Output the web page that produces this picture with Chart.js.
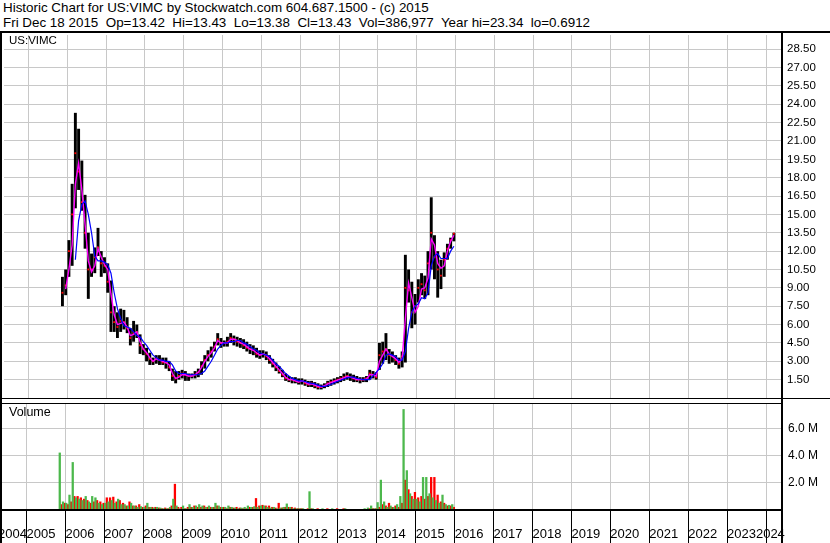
<!DOCTYPE html>
<html>
<head>
<meta charset="utf-8">
<title>Historic Chart for US:VIMC</title>
<script src="https://cdn.jsdelivr.net/npm/chart.js"></script>
<style>
    body { margin: 0; background: #fff; width: 830px; height: 543px; overflow: hidden; position: relative;
           font-family: 'Liberation Sans', Arial, sans-serif; color: #000; }
    #header { position: absolute; left: 3px; top: 1px; font-size: 13.4px; line-height: 14.5px; white-space: pre; }
    .panel-title { position: absolute; left: 9px; z-index: 2; white-space: pre; }
    #priceChart { position: absolute; left: 0; top: 31px; }
    #volChart { position: absolute; left: 0; top: 402px; }
</style>
</head>
<body>
<div id="header">Historic Chart for US:VIMC by Stockwatch.com 604.687.1500 - (c) 2015
Fri Dec 18 2015  Op=13.42  Hi=13.43  Lo=13.38  Cl=13.43  Vol=386,977  Year hi=23.34  lo=0.6912</div>
<div class="panel-title" style="top:34px; font-size:11.5px;">US:VIMC</div>
<div class="panel-title" style="top:405px; font-size:12.5px;">Volume</div>
<canvas id="priceChart" width="830" height="371"></canvas>
<canvas id="volChart" width="830" height="141"></canvas>
<script>
// monthly bars, Nov 2005 - Dec 2015
const months = [
    '2005-11','2005-12',
    '2006-01','2006-02','2006-03','2006-04','2006-05','2006-06','2006-07','2006-08','2006-09','2006-10','2006-11','2006-12',
    '2007-01','2007-02','2007-03','2007-04','2007-05','2007-06','2007-07','2007-08','2007-09','2007-10','2007-11','2007-12',
    '2008-01','2008-02','2008-03','2008-04','2008-05','2008-06','2008-07','2008-08','2008-09','2008-10','2008-11','2008-12',
    '2009-01','2009-02','2009-03','2009-04','2009-05','2009-06','2009-07','2009-08','2009-09','2009-10','2009-11','2009-12',
    '2010-01','2010-02','2010-03','2010-04','2010-05','2010-06','2010-07','2010-08','2010-09','2010-10','2010-11','2010-12',
    '2011-01','2011-02','2011-03','2011-04','2011-05','2011-06','2011-07','2011-08','2011-09','2011-10','2011-11','2011-12',
    '2012-01','2012-02','2012-03','2012-04','2012-05','2012-06','2012-07','2012-08','2012-09','2012-10','2012-11','2012-12',
    '2013-01','2013-02','2013-03','2013-04','2013-05','2013-06','2013-07','2013-08','2013-09','2013-10','2013-11','2013-12',
    '2014-01','2014-02','2014-03','2014-04','2014-05','2014-06','2014-07','2014-08','2014-09','2014-10','2014-11','2014-12',
    '2015-01','2015-02','2015-03','2015-04','2015-05','2015-06','2015-07','2015-08','2015-09','2015-10','2015-11','2015-12'
];

const highs = [
    9.9, 10.5,
    12.9, 17.5, 23.3, 22.0, 19.4, 16.6, 13.5, 11.8, 12.3, 13.9, 12.0, 11.5,
    11.0, 9.6, 7.5, 7.0, 7.3, 7.2, 6.6, 5.7, 6.3, 6.0, 5.2, 4.4,
    4.1, 3.7, 3.3, 3.5, 3.5, 3.3, 3.3, 3.0, 2.4, 2.2, 2.2, 2.3,
    2.2, 2.0, 2.0, 2.2, 2.4, 3.0, 3.5, 3.9, 4.2, 4.6, 5.3, 4.9,
    4.7, 5.0, 5.3, 5.1, 5.0, 4.9, 4.8, 4.6, 4.4, 4.3, 4.1, 3.9,
    3.9, 3.8, 3.5, 3.2, 2.9, 2.6, 2.3, 2.0, 1.8, 1.7, 1.7, 1.6,
    1.6, 1.5, 1.4, 1.4, 1.3, 1.2, 1.1, 1.2, 1.4, 1.5, 1.6, 1.7,
    1.8, 2.0, 2.1, 2.0, 1.9, 1.8, 1.7, 1.7, 1.8, 2.3, 2.2, 2.1,
    4.5, 4.6, 5.3, 4.0, 3.8, 3.5, 3.3, 3.8, 11.7, 10.5, 9.5, 8.5,
    9.7, 10.2, 10.0, 12.0, 16.4, 13.3, 12.0, 11.3, 11.9, 12.6, 13.1, 13.5
];

const lows = [
    7.5, 8.4,
    9.9, 10.8, 15.5, 17.0, 15.3, 12.2, 8.1, 9.9, 10.2, 11.6, 9.9, 10.2,
    8.6, 5.4, 5.4, 4.9, 5.4, 5.6, 5.3, 4.3, 4.6, 4.9, 3.6, 3.5,
    3.0, 2.7, 2.7, 2.8, 2.7, 2.7, 2.4, 2.2, 1.4, 1.2, 1.5, 1.6,
    1.4, 1.4, 1.6, 1.6, 1.7, 1.9, 2.4, 3.0, 3.3, 3.8, 4.3, 4.1,
    4.2, 4.2, 4.5, 4.3, 4.2, 4.1, 4.0, 3.8, 3.6, 3.5, 3.3, 3.2,
    3.3, 3.1, 2.8, 2.5, 2.2, 2.0, 1.7, 1.4, 1.3, 1.2, 1.2, 1.1,
    1.1, 1.0, 0.9, 0.9, 0.8, 0.7, 0.7, 0.8, 0.9, 1.0, 1.1, 1.2,
    1.3, 1.4, 1.5, 1.4, 1.3, 1.3, 1.2, 1.3, 1.3, 1.5, 1.6, 1.5,
    2.3, 2.8, 3.1, 2.8, 2.9, 2.7, 2.4, 2.5, 2.9, 7.8, 5.7, 6.0,
    7.8, 8.4, 8.1, 8.4, 10.5, 9.7, 8.2, 8.9, 9.9, 11.3, 12.2, 12.8
];

const closes = [
    8.6, 9.2,
    12.0, 15.0, 20.0, 18.5, 16.0, 13.5, 10.5, 10.5, 11.5, 12.3, 11.0, 10.8,
    9.5, 7.0, 6.2, 5.8, 6.3, 6.2, 5.7, 4.9, 5.3, 5.4, 4.3, 4.0,
    3.6, 3.2, 3.0, 3.2, 3.1, 2.9, 2.9, 2.5, 1.8, 1.6, 1.8, 2.0,
    1.9, 1.8, 1.8, 1.9, 2.1, 2.6, 3.1, 3.5, 3.8, 4.2, 4.8, 4.5,
    4.5, 4.6, 4.9, 4.8, 4.6, 4.5, 4.3, 4.1, 4.0, 3.9, 3.6, 3.5,
    3.6, 3.4, 3.1, 2.8, 2.5, 2.2, 1.9, 1.6, 1.5, 1.5, 1.4, 1.3,
    1.4, 1.2, 1.1, 1.2, 1.0, 0.9, 0.9, 1.0, 1.2, 1.3, 1.4, 1.5,
    1.6, 1.7, 1.8, 1.7, 1.6, 1.5, 1.5, 1.5, 1.6, 2.0, 1.9, 1.7,
    3.5, 3.8, 4.0, 3.5, 3.4, 3.1, 2.8, 3.4, 9.0, 8.8, 7.0, 7.5,
    9.0, 9.3, 8.8, 11.0, 13.5, 11.5, 10.5, 10.0, 11.3, 12.2, 12.9, 13.43
];

// short moving average (magenta)
const maShort = [
    null, 8.9,
    10.5, 12.5, 17.5, 19.2, 17.0, 14.2, 11.2, 10.3, 10.8, 12.2, 11.5, 10.9,
    10.5, 8.5, 6.8, 6.0, 6.1, 6.2, 5.8, 5.1, 5.2, 5.4, 4.6, 4.0,
    3.7, 3.3, 3.0, 3.2, 3.1, 3.0, 2.9, 2.7, 2.0, 1.6, 1.7, 1.9,
    1.9, 1.8, 1.8, 1.9, 2.1, 2.5, 3.0, 3.4, 3.7, 4.1, 4.7, 4.5,
    4.5, 4.5, 4.8, 4.8, 4.7, 4.5, 4.4, 4.2, 4.0, 3.9, 3.7, 3.5,
    3.6, 3.5, 3.2, 2.9, 2.6, 2.3, 2.0, 1.7, 1.5, 1.5, 1.4, 1.3,
    1.4, 1.3, 1.15, 1.15, 1.05, 0.95, 0.9, 1.0, 1.15, 1.25, 1.35, 1.45,
    1.55, 1.65, 1.75, 1.7, 1.6, 1.5, 1.5, 1.5, 1.55, 1.9, 1.9, 1.8,
    3.0, 3.5, 4.0, 3.6, 3.4, 3.2, 2.9, 3.2, 6.5, 9.4, 8.2, 7.0,
    7.5, 8.9, 9.0, 9.8, 13.0, 12.5, 11.0, 10.6, 10.8, 12.0, 12.8, 13.3
];

// long moving average (blue)
const maLong = [
    null, null,
    null, null, 11.3, 14.5, 15.8, 16.1, 15.0, 13.5, 11.6, 11.2, 11.2, 11.1,
    10.9, 10.2, 8.6, 7.3, 6.5, 5.9, 5.8, 5.7, 5.4, 5.1, 5.0, 4.6,
    4.3, 3.9, 3.5, 3.3, 3.1, 3.1, 3.0, 3.0, 2.7, 2.2, 2.0, 2.0,
    2.0, 1.9, 1.9, 1.9, 1.9, 2.0, 2.2, 2.6, 3.0, 3.5, 4.0, 4.3,
    4.5, 4.5, 4.6, 4.6, 4.7, 4.7, 4.5, 4.4, 4.2, 4.0, 3.9, 3.7,
    3.6, 3.5, 3.4, 3.1, 2.8, 2.6, 2.3, 2.0, 1.8, 1.6, 1.5, 1.4,
    1.4, 1.35, 1.25, 1.2, 1.15, 1.05, 0.95, 0.95, 1.0, 1.1, 1.25, 1.35,
    1.45, 1.55, 1.65, 1.7, 1.7, 1.6, 1.55, 1.5, 1.5, 1.5, 1.8, 2.1,
    2.4, 2.8, 3.5, 3.6, 3.5, 3.4, 3.1, 3.1, 3.8, 5.7, 7.0, 7.5,
    7.7, 8.2, 8.1, 8.6, 10.8, 11.6, 11.8, 11.4, 11.4, 11.4, 12.0, 12.4
];

// volume in millions, up days (green) and down days (red)
const volUp = [
    4.2, 0.6,
    0.5, 1.1, 3.5, 0.9, 0.8, 0.7, 1.0, 0.6, 1.0, 0.9, 0.5, 0.4,
    0.5, 0.6, 0.7, 0.5, 0.8, 0.4, 0.4, 0.3, 0.5, 0.3, 0.2, 0.25,
    0.2, 0.5, 0.2, 0.15, 0.2, 0.15, 0.1, 0.1, 0.2, 0.8, 0.3, 0.1,
    0.3, 0.1, 0.4, 0.2, 0.3, 0.4, 0.3, 0.2, 0.3, 0.2, 0.5, 0.3,
    0.2, 0.2, 0.3, 0.2, 0.15, 0.1, 0.15, 0.2, 0.3, 0.2, 0.25, 0.2,
    0.3, 0.3, 0.2, 0.15, 0.2, 0.1, 0.15, 0.2, 0.45, 0.2, 0.1, 0.1,
    0.1, 0.1, 0.05, 1.35, 0.1, 0.05, 0.05, 0.1, 0.05, 0.05, 0.1, 0.05,
    0.05, 0.05, 0.1, 0.05, 0.05, 0.05, 0.05, 0.05, 0.1, 0.15, 0.3, 0.1,
    0.55, 2.2, 0.6, 0.2, 0.3, 0.2, 0.4, 1.0, 7.4, 2.9, 1.2, 0.8,
    0.8, 0.6, 2.4, 2.4, 1.2, 0.9, 0.7, 0.5, 1.1, 0.4, 0.35, 0.4
];
const volDown = [
    0.4, 0.5,
    0.4, 0.6, 1.0, 1.0, 0.9, 0.8, 0.7, 0.5, 0.6, 0.7, 0.6, 0.5,
    0.9, 0.9, 0.95, 0.6, 0.7, 0.5, 0.3, 0.6, 0.3, 0.3, 0.4, 0.2,
    0.3, 0.2, 0.2, 0.2, 0.15, 0.1, 0.15, 0.1, 0.3, 1.9, 0.2, 0.2,
    0.1, 0.2, 0.2, 0.3, 0.2, 0.2, 0.3, 0.2, 0.2, 0.2, 0.3, 0.2,
    0.2, 0.1, 0.2, 0.15, 0.2, 0.15, 0.1, 0.1, 0.2, 0.2, 0.85, 0.3,
    0.35, 0.3, 0.3, 0.2, 0.15, 0.5, 0.15, 0.2, 0.2, 0.2, 0.15, 0.1,
    0.1, 0.05, 0.1, 0.1, 0.05, 0.1, 0.05, 0.05, 0.1, 0.05, 0.05, 0.1,
    0.05, 0.1, 0.05, 0.05, 0.05, 0.05, 0.05, 0.05, 0.05, 0.1, 0.1, 0.1,
    0.2, 0.4, 0.3, 0.5, 0.2, 0.3, 0.2, 0.5, 2.2, 1.5, 1.0, 1.3,
    0.9, 1.0, 0.8, 1.0, 2.4, 2.4, 1.1, 0.6, 0.5, 0.3, 0.3, 0.2
];

const yearLabels = ['2004','2005','2006','2007','2008','2009','2010','2011','2012','2013','2014',
    '2015','2016','2017','2018','2019','2020','2021','2022','2023','2024'];

const xMin = 2004.37;
const xMax = 2024.41;
const gridColor = '#c8c8c8';
const fontFamily = "'Liberation Sans', Arial, sans-serif";

// decimal year at the middle of each month
const monthX = months.map(s => {
    const [y, m] = s.split('-').map(Number);
    return y + (m - 0.5) / 12;
});
const pts = arr => arr.map((v, i) => ({ x: monthX[i], y: v }));

function noPad(scale) {
    scale.paddingTop = 0;
    scale.paddingBottom = 0;
    scale.paddingLeft = 0;
    scale.paddingRight = 0;
}

// year boundaries used for grid lines
const yearValues = yearLabels.slice(1).map(Number);

let pricePanel = {
    id: 'pricePanel',
    afterDraw(chart) {
        const { ctx, chartArea: a, width, height } = chart;
        ctx.save();
        ctx.fillStyle = '#000';
        ctx.fillRect(0, 0, width, 2);
        ctx.fillRect(0, 0, 2, height);
        ctx.fillRect(a.right - 1, 0, 2, height);
        ctx.fillRect(0, a.bottom, width, 1);
        ctx.restore();
    }
};

let volPanel = {
    id: 'volPanel',
    afterDraw(chart) {
        const { ctx, chartArea: a, height } = chart;
        ctx.save();
        ctx.fillStyle = '#000';
        ctx.fillRect(0, 1, a.right, 1);
        ctx.fillRect(0, 0, 2, height);
        ctx.fillRect(a.right - 1, 0, 2, height);
        ctx.fillRect(0, a.bottom - 1, a.right, 2);
        ctx.restore();
    }
};

new Chart(document.getElementById('priceChart'), {
    type: 'bar',
    data: {
        datasets: [
            {
                type: 'line',
                data: pts(maLong),
                borderColor: '#0000ff',
                borderWidth: 1.2,
                pointRadius: 0,
                order: 1
            },
            {
                type: 'line',
                data: pts(maShort),
                borderColor: '#ff00ff',
                borderWidth: 1.4,
                pointRadius: 0,
                order: 2
            },
            {
                type: 'line',
                data: pts(closes),
                showLine: false,
                pointStyle: 'rect',
                pointRadius: 1.3,
                pointBorderWidth: 0,
                pointBackgroundColor: '#ff0000',
                order: 3
            },
            {
                type: 'bar',
                data: monthX.map((x, i) => ({ x: x, y: [lows[i], highs[i]] })),
                backgroundColor: '#000',
                barPercentage: 0.9,
                categoryPercentage: 1,
                order: 4
            }
        ]
    },
    options: {
        responsive: false,
        animation: false,
        layout: { padding: { left: 2, top: 2, right: 0, bottom: 0 } },
        plugins: { legend: { display: false }, tooltip: { enabled: false } },
        scales: {
            x: {
                type: 'linear',
                min: xMin,
                max: xMax,
                offset: false,
                afterBuildTicks: s => { s.ticks = yearValues.map(v => ({ value: v })); },
                ticks: { display: false },
                grid: { color: gridColor, drawTicks: false, offset: false },
                border: { display: false },
                afterFit: s => { s.height = 1; noPad(s); }
            },
            y: {
                position: 'right',
                min: 0,
                max: 29.66,
                afterBuildTicks: s => { s.ticks = s.ticks.filter(t => t.value > 0 && t.value < 29); },
                ticks: {
                    stepSize: 1.5,
                    padding: 5,
                    color: '#000',
                    font: { family: fontFamily, size: 11.5 },
                    callback: v => v.toFixed(2)
                },
                grid: { color: gridColor, drawTicks: false },
                border: { display: false },
                afterFit: s => { s.width = 48; noPad(s); }
            }
        }
    },
    plugins: [pricePanel]
});

// bottom axis: separators at every year, labels left aligned, end labels kept inside the strip
const volTickValues = [xMin - 0.1].concat(yearValues.slice(0, -1), [2023.74, 2024]);
const volTickLabels = ['2004'].concat(yearLabels.slice(1, -1), ['2024', '']);
const noLine = i => i === 0 || i === volTickValues.length - 2;

new Chart(document.getElementById('volChart'), {
    type: 'bar',
    data: {
        datasets: [
            {
                data: pts(volUp),
                backgroundColor: '#4cb84c',
                barPercentage: 1,
                categoryPercentage: 1
            },
            {
                data: pts(volDown),
                backgroundColor: '#ff0000',
                barPercentage: 1,
                categoryPercentage: 1
            }
        ]
    },
    options: {
        responsive: false,
        animation: false,
        layout: { padding: { left: 2, top: 2, right: 0, bottom: 0 } },
        plugins: { legend: { display: false }, tooltip: { enabled: false } },
        scales: {
            x: {
                type: 'linear',
                min: xMin,
                max: xMax,
                offset: false,
                afterBuildTicks: s => { s.ticks = volTickValues.map(v => ({ value: v })); },
                ticks: {
                    autoSkip: false,
                    maxRotation: 0,
                    align: 'start',
                    padding: -16.8,
                    color: '#000',
                    font: { family: fontFamily, size: 13 },
                    callback: (v, i) => volTickLabels[i]
                },
                grid: {
                    offset: false,
                    color: c => noLine(c.index) ? 'rgba(0,0,0,0)' : gridColor,
                    tickColor: c => noLine(c.index) ? 'rgba(0,0,0,0)' : '#000',
                    tickLength: 33
                },
                border: { display: false },
                afterFit: s => { s.height = 33; noPad(s); }
            },
            y: {
                position: 'right',
                min: 0,
                max: 7.8,
                afterBuildTicks: s => { s.ticks = s.ticks.filter(t => t.value > 0 && t.value < 7.5); },
                ticks: {
                    stepSize: 2,
                    padding: 6,
                    color: '#000',
                    font: { family: fontFamily, size: 12 },
                    callback: v => v.toFixed(1) + ' M'
                },
                grid: { color: gridColor, drawTicks: false },
                border: { display: false },
                afterFit: s => { s.width = 48; noPad(s); }
            }
        }
    },
    plugins: [volPanel]
});
</script>
</body>
</html>
